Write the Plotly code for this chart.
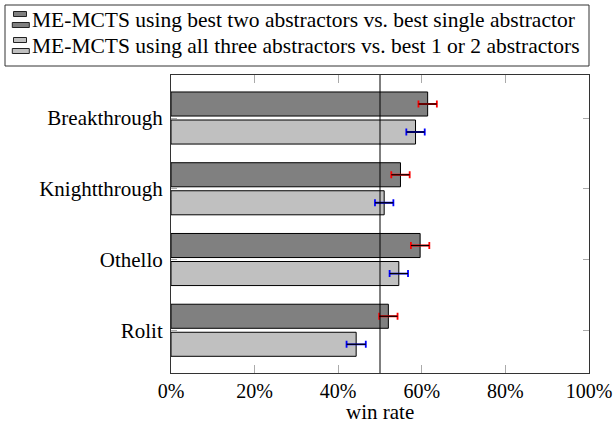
import plotly.graph_objects as go

# Win rates (%) per game with 95% confidence half-widths
games = ["Breakthrough", "Knightthrough", "Othello", "Rolit"]
two_vs_single = [61.4, 54.9, 59.6, 52.0]
two_vs_single_err = [2.2, 2.2, 2.2, 2.2]
three_vs_best = [58.5, 51.0, 54.5, 44.3]
three_vs_best_err = [2.2, 2.2, 2.2, 2.3]
series_names = [
    "ME-MCTS using best two abstractors vs. best single abstractor",
    "ME-MCTS using all three abstractors vs. best 1 or 2 abstractors",
]
x_ticks = [0, 20, 40, 60, 80, 100]

W, H = 613, 430
ML, MR, MT, MB = 171, 24, 75, 57
PW, PH = W - ML - MR, H - MT - MB
FONT = "Liberation Serif"
FS = 21


def px(x):
    return (x - ML) / PW


def py(y):
    return (H - MB - y) / PH


fig = go.Figure()

series = [
    (two_vs_single, two_vs_single_err, "#808080", "#ff0000", -0.368),
    (three_vs_best, three_vs_best_err, "#c0c0c0", "#0000ff", 0.028),
]
for vals, errs, fill, cap, off in series:
    # bar with coloured error caps
    fig.add_trace(go.Bar(
        orientation="h", y=games, x=vals, width=0.34, offset=off,
        marker=dict(color=fill, line=dict(color="black", width=1)),
        error_x=dict(type="data", array=errs, color=cap, thickness=1.8, width=3.5),
        showlegend=False, hoverinfo="skip",
    ))
    # black error line drawn on top (no caps)
    fig.add_trace(go.Bar(
        orientation="h", y=games, x=vals, width=0.34, offset=off,
        marker=dict(color="rgba(0,0,0,0)", line=dict(width=0)),
        error_x=dict(type="data", array=errs, color="black", thickness=1.2, width=0),
        showlegend=False, hoverinfo="skip",
    ))

shapes = [
    # 50% reference line
    dict(type="line", xref="x", yref="paper", x0=50, x1=50, y0=0, y1=1,
         line=dict(color="black", width=1)),
    # legend frame
    dict(type="rect", xref="paper", yref="paper", x0=px(5), x1=px(589),
         y0=py(66), y1=py(5), line=dict(color="#333333", width=1),
         fillcolor="white", layer="above"),
]
annotations = []
legend_rows = [(series_names[0], "#808080", 20), (series_names[1], "#c0c0c0", 46)]
for name, fill, yc in legend_rows:
    shapes.append(dict(type="rect", xref="paper", yref="paper",
                       x0=px(13.5), x1=px(26.5), y0=py(yc - 3.5), y1=py(yc - 8.5),
                       line=dict(color="#222222", width=1), fillcolor=fill, layer="above"))
    shapes.append(dict(type="rect", xref="paper", yref="paper",
                       x0=px(12.3), x1=px(29.3), y0=py(yc + 7.5), y1=py(yc + 2.5),
                       line=dict(color="#222222", width=1), fillcolor=fill, layer="above"))
    annotations.append(dict(
        text=name, xref="paper", yref="paper", x=px(29.5), y=py(yc),
        xanchor="left", yanchor="middle", showarrow=False,
        font=dict(family=FONT, size=21.5, color="black"),
    ))

annotations.append(dict(
    text="win rate", xref="paper", yref="paper", x=0.5, y=py(412),
    xanchor="center", yanchor="middle", showarrow=False,
    font=dict(family=FONT, size=FS, color="black"),
))

fig.update_layout(
    width=W, height=H,
    margin=dict(l=ML, r=MR, t=MT, b=MB, pad=0, autoexpand=False),
    paper_bgcolor="white", plot_bgcolor="white",
    barmode="overlay",
    shapes=shapes, annotations=annotations,
    font=dict(family=FONT, size=FS, color="black"),
    xaxis=dict(
        range=[0, 100], tickvals=x_ticks, ticktext=[f"{t}%" for t in x_ticks],
        showgrid=False, zeroline=False, automargin=False,
        showline=True, linecolor="#333333", linewidth=1, mirror="ticks",
        ticks="inside", ticklen=8, tickcolor="#aaaaaa", tickwidth=1,
        ticklabelstandoff=0,
        tickfont=dict(family=FONT, size=20, color="black"),
    ),
    yaxis=dict(
        type="category", categoryorder="array", categoryarray=games,
        range=[3.604, -0.608],
        showgrid=False, zeroline=False, automargin=False,
        showline=True, linecolor="#333333", linewidth=1, mirror="ticks",
        ticks="inside", ticklen=6, tickcolor="#aaaaaa", tickwidth=1,
        ticklabelstandoff=3,
        tickfont=dict(family=FONT, size=FS, color="black"),
    ),
)

fig.write_html("out.html")
